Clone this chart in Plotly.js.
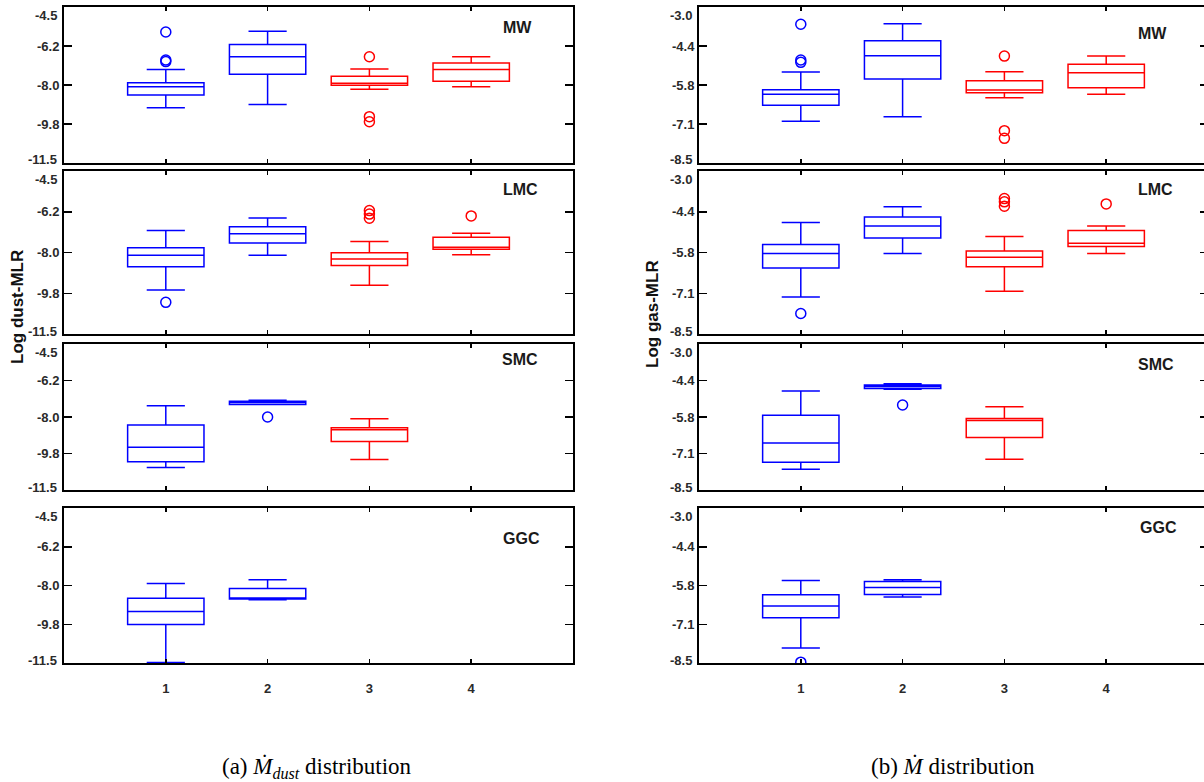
<!DOCTYPE html>
<html>
<head>
<meta charset="utf-8">
<script src="https://cdn.plot.ly/plotly-3.0.1.min.js"></script>
<style>
html,body{margin:0;padding:0;overflow:hidden;background:#fff;}
#chart{width:1210px;height:782px;}
</style>
</head>
<body>
<div id="chart"></div>
<script>
// ---------- DATA ----------
const categories = [1, 2, 3, 4];
const boxColors = ['rgb(0,0,255)', 'rgb(0,0,255)', 'rgb(255,0,0)', 'rgb(255,0,0)'];
const panelNames = ['MW', 'LMC', 'SMC', 'GGC'];

// each box: [lower whisker, Q1, median, Q3, upper whisker]
const dustMW  = [[-9.02,-8.45,-8.08,-7.90,-7.30],[-8.87,-7.52,-6.73,-6.18,-5.59],[-8.19,-8.01,-7.92,-7.61,-7.28],[-8.08,-7.83,-7.31,-7.01,-6.73]];
const dustLMC = [[-9.61,-8.61,-8.12,-7.80,-7.06],[-8.12,-7.59,-7.19,-6.89,-6.52],[-9.41,-8.56,-8.28,-8.01,-7.53],[-8.10,-7.86,-7.77,-7.35,-7.17]];
const dustSMC = [[-10.42,-10.15,-9.45,-8.38,-7.46],[-7.40,-7.40,-7.30,-7.25,-7.20],[-10.04,-9.18,-8.61,-8.51,-8.08]];
const dustGGC = [[-11.48,-9.76,-9.17,-8.58,-7.91],[-8.64,-8.61,-8.56,-8.13,-7.74]];

const gasMW  = [[-7.03,-6.46,-6.08,-5.92,-5.29],[-6.87,-5.54,-4.72,-4.19,-3.59],[-6.20,-6.02,-5.93,-5.60,-5.28],[-6.08,-5.85,-5.32,-5.02,-4.73]];
const gasLMC = [[-7.25,-6.27,-5.78,-5.48,-4.74],[-5.78,-5.26,-4.86,-4.55,-4.21],[-7.06,-6.23,-5.91,-5.70,-5.21],[-5.78,-5.55,-5.44,-5.01,-4.86]];
const gasSMC = [[-7.72,-7.45,-6.73,-5.68,-4.77],[-4.70,-4.68,-4.60,-4.54,-4.50],[-7.34,-6.52,-5.88,-5.81,-5.36]];
const gasGGC = [[-7.97,-6.89,-6.48,-6.08,-5.57],[-6.16,-6.07,-5.82,-5.61,-5.55]];

// outliers: [category, value]
const dustMW_out  = [[1,-5.62],[1,-6.88],[1,-6.95],[3,-6.73],[3,-9.42],[3,-9.65]];
const dustLMC_out = [[1,-10.14],[3,-6.20],[3,-6.35],[3,-6.53],[4,-6.43]];
const dustSMC_out = [[2,-8.00]];
const dustGGC_out = [];
const gasMW_out  = [[1,-3.61],[1,-4.87],[1,-4.95],[3,-4.73],[3,-7.36],[3,-7.63]];
const gasLMC_out = [[1,-7.81],[3,-3.93],[3,-4.04],[3,-4.19],[4,-4.11]];
const gasSMC_out = [[2,-5.30]];
const gasGGC_out = [[1,-8.47]];

const dustTickVals = [-11.5, -9.75, -8.0, -6.25, -4.5];
const dustTickText = ['-11.5', '-9.8', '-8.0', '-6.2', '-4.5'];
const gasTickVals = [-8.5, -7.125, -5.75, -4.375, -3.0];
const gasTickText = ['-8.5', '-7.1', '-5.8', '-4.4', '-3.0'];
const xTickText = ['1', '2', '3', '4'];

// ---------- LAYOUT GEOMETRY (pixels) ----------
const W = 1210, H = 782;
const rowsPx = [[7,163],[171,334],[344,490],[508,663]];
const colsPx = [[64,573],[699,1208]];
const fx = p => p / W;
const fy = p => 1 - p / H;

const panels = [
  {col:0,row:0,data:dustMW, out:dustMW_out}, {col:0,row:1,data:dustLMC,out:dustLMC_out},
  {col:0,row:2,data:dustSMC,out:dustSMC_out},{col:0,row:3,data:dustGGC,out:dustGGC_out},
  {col:1,row:0,data:gasMW, out:gasMW_out},  {col:1,row:1,data:gasLMC,out:gasLMC_out},
  {col:1,row:2,data:gasSMC,out:gasSMC_out}, {col:1,row:3,data:gasGGC,out:gasGGC_out}
];

const tickFont = {family:'Liberation Sans, Arial, sans-serif', size:13, color:'#2a2a2a', weight:'bold'};
const traces = [];
const layout = {
  width: W, height: H, margin:{l:0,r:0,t:0,b:0},
  paper_bgcolor:'#fff', plot_bgcolor:'#fff', showlegend:false, annotations:[]
};

panels.forEach((p, i) => {
  const n = i + 1;
  const xa = 'x' + (n === 1 ? '' : n), ya = 'y' + (n === 1 ? '' : n);
  const xk = 'xaxis' + (n === 1 ? '' : n), yk = 'yaxis' + (n === 1 ? '' : n);
  ['blue','red'].forEach((c, ci) => {
    const idx = p.data.map((d, k) => k).filter(k => (ci === 0 ? k < 2 : k >= 2));
    if (!idx.length) return;
    traces.push({
      type:'box', xaxis:xa, yaxis:ya,
      x: idx.map(k => categories[k]),
      lowerfence: idx.map(k => p.data[k][0]),
      q1: idx.map(k => p.data[k][1]),
      median: idx.map(k => p.data[k][2]),
      q3: idx.map(k => p.data[k][3]),
      upperfence: idx.map(k => p.data[k][4]),
      width: 0.75, whiskerwidth: 0.5,
      line:{color: boxColors[idx[0]], width:1.5},
      fillcolor:'rgba(0,0,0,0)', boxpoints:false, hoverinfo:'skip'
    });
  });
  if (p.out.length) {
    traces.push({
      type:'scatter', mode:'markers', xaxis:xa, yaxis:ya,
      x: p.out.map(o => o[0]), y: p.out.map(o => o[1]),
      marker:{symbol:'circle-open', size:10, color: p.out.map(o => boxColors[o[0]-1]), line:{width:1.5}},
      cliponaxis:true, hoverinfo:'skip'
    });
  }
  const cp = colsPx[p.col], rp = rowsPx[p.row];
  layout[xk] = {
    domain:[fx(cp[0]), fx(cp[1])], anchor: ya, range:[0,5],
    tickvals: categories, ticktext: xTickText, showticklabels: p.row === 3,
    ticks:'inside', ticklen:4, tickwidth:1.5, tickcolor:'#000',
    showline:true, linecolor:'#000', linewidth:2, mirror:'ticks',
    showgrid:false, zeroline:false, tickfont: tickFont, ticklabelstandoff: 12,
    fixedrange:true
  };
  const dust = p.col === 0;
  const tv = dust ? dustTickVals : gasTickVals;
  const tt = dust ? dustTickText : gasTickText;
  layout[yk] = {
    domain:[fy(rp[1]), fy(rp[0])], anchor: xa,
    range: [tv[0], tv[tv.length-1]],
    tickvals: tv,
    // end labels are drawn nudged inside the panel (below), as in the original
    ticktext: tt.map((t, k) => (k === 0 || k === tt.length-1) ? ' ' : t),
    ticks:'inside', ticklen:8, tickwidth:1.5, tickcolor:'#000',
    showline:true, linecolor:'#000', linewidth:2, mirror:'ticks',
    showgrid:false, zeroline:false, tickfont: tickFont, fixedrange:true
  };
  // nudged end tick labels
  const labX = cp[0] - 5;
  layout.annotations.push({xref:'paper', yref:'paper', x: fx(labX), y: fy(rp[0] + 8),
    xanchor:'right', yanchor:'middle', showarrow:false, text: tt[tt.length-1], font: tickFont});
  layout.annotations.push({xref:'paper', yref:'paper', x: fx(labX), y: fy(rp[1] - 3),
    xanchor:'right', yanchor:'middle', showarrow:false, text: tt[0], font: tickFont});
});

// panel labels
const labelPosPx = [[[517,28],[520,189],[520,360],[521,538]], [[1152,34],[1155,190],[1156,364],[1158,527]]];
[0,1].forEach(c => panelNames.forEach((name, r) => {
  layout.annotations.push({
    xref:'paper', yref:'paper', x: fx(labelPosPx[c][r][0]), y: fy(labelPosPx[c][r][1]),
    xanchor:'center', yanchor:'middle', showarrow:false, text: name,
    font:{family:'Liberation Sans, Arial, sans-serif', size:16, color:'#1a1a1a', weight:'bold'}
  });
}));

// y titles
layout.annotations.push({xref:'paper', yref:'paper', x: fx(18), y: fy(307), textangle:-90,
  xanchor:'center', yanchor:'middle', showarrow:false, text:'Log dust-MLR',
  font:{family:'Liberation Sans, Arial, sans-serif', size:17, color:'#111', weight:'bold'}});
layout.annotations.push({xref:'paper', yref:'paper', x: fx(652), y: fy(314), textangle:-90,
  xanchor:'center', yanchor:'middle', showarrow:false, text:'Log gas-MLR',
  font:{family:'Liberation Sans, Arial, sans-serif', size:17, color:'#111', weight:'bold'}});

// captions (tops aligned so both baselines match)
layout.annotations.push({xref:'paper', yref:'paper', x: fx(317), y: fy(753),
  xanchor:'center', yanchor:'top', showarrow:false, borderpad:0,
  text:'(a) <i>Ṁ</i><sub><i>dust</i></sub> distribution',
  font:{family:'Liberation Serif, Times New Roman, serif', size:23, color:'#000'}});
layout.annotations.push({xref:'paper', yref:'paper', x: fx(953), y: fy(753),
  xanchor:'center', yanchor:'top', showarrow:false, borderpad:0,
  text:'(b) <i>Ṁ</i> distribution',
  font:{family:'Liberation Serif, Times New Roman, serif', size:23, color:'#000'}});

Plotly.newPlot('chart', traces, layout, {displayModeBar:false, staticPlot:true});
</script>
</body>
</html>
